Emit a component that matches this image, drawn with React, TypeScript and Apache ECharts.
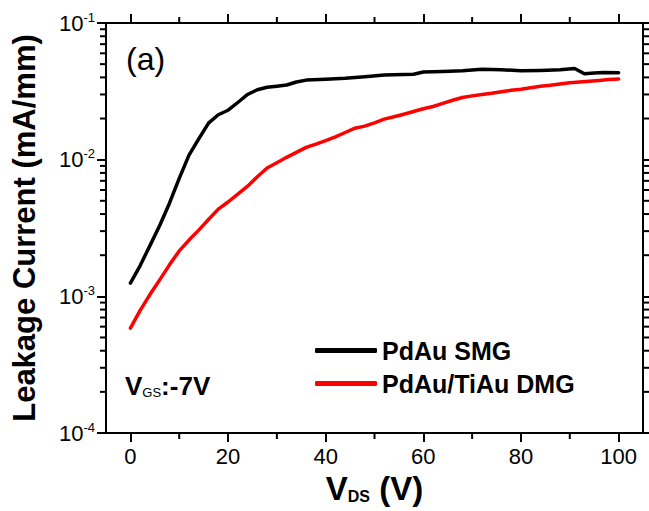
import React, { useEffect, useRef } from "react";
import * as echarts from "echarts";

// ---- data ----
const smgV = [0, 2, 4, 6, 8, 10, 12, 14, 16, 18, 20, 22, 24, 26, 28, 30, 32, 34, 36, 40, 44, 48, 52, 56, 58, 60, 64, 68, 72, 76, 80, 84, 88, 91, 93, 95, 97, 100];
const smgI = [1.25e-3, 1.68e-3, 2.35e-3, 3.3e-3, 4.8e-3, 7.3e-3, 1.08e-2, 1.42e-2, 1.85e-2, 2.13e-2, 2.3e-2, 2.62e-2, 3.0e-2, 3.25e-2, 3.39e-2, 3.45e-2, 3.52e-2, 3.7e-2, 3.82e-2, 3.87e-2, 3.94e-2, 4.05e-2, 4.17e-2, 4.2e-2, 4.22e-2, 4.38e-2, 4.42e-2, 4.48e-2, 4.58e-2, 4.55e-2, 4.47e-2, 4.5e-2, 4.55e-2, 4.65e-2, 4.25e-2, 4.3e-2, 4.35e-2, 4.33e-2];

const dmgV = [0, 2, 4, 6, 8, 10, 12, 14, 16, 18, 20, 22, 24, 26, 28, 30, 32, 34, 36, 38, 40, 42, 44, 46, 48, 50, 52, 54, 56, 58, 60, 62, 64, 66, 68, 70, 72, 74, 76, 78, 80, 82, 84, 86, 88, 90, 92, 94, 96, 98, 100];
const dmgI = [5.85e-4, 7.9e-4, 1.03e-3, 1.32e-3, 1.7e-3, 2.15e-3, 2.58e-3, 3.05e-3, 3.65e-3, 4.35e-3, 4.9e-3, 5.6e-3, 6.4e-3, 7.5e-3, 8.7e-3, 9.5e-3, 1.04e-2, 1.13e-2, 1.23e-2, 1.3e-2, 1.38e-2, 1.47e-2, 1.58e-2, 1.7e-2, 1.76e-2, 1.86e-2, 1.98e-2, 2.06e-2, 2.15e-2, 2.25e-2, 2.36e-2, 2.45e-2, 2.58e-2, 2.72e-2, 2.85e-2, 2.93e-2, 3.0e-2, 3.06e-2, 3.14e-2, 3.22e-2, 3.28e-2, 3.36e-2, 3.44e-2, 3.5e-2, 3.58e-2, 3.66e-2, 3.7e-2, 3.75e-2, 3.8e-2, 3.86e-2, 3.9e-2];

const xMajorTicks = [0, 20, 40, 60, 80, 100];
const xMinorTicks = [10, 30, 50, 70, 90];
const yMinorTicks = [2e-4, 3e-4, 4e-4, 5e-4, 6e-4, 7e-4, 8e-4, 9e-4, 2e-3, 3e-3, 4e-3, 5e-3, 6e-3, 7e-3, 8e-3, 9e-3, 2e-2, 3e-2, 4e-2, 5e-2, 6e-2, 7e-2, 8e-2, 9e-2];

const seriesNames = ["PdAu SMG", "PdAu/TiAu DMG"];

const X_MIN = -5;
const X_MAX = 105;
const Y_MIN = 1e-4;
const Y_MAX = 1e-1;

const SANS = "'Liberation Sans', Arial, sans-serif";

export default function App() {
  const ref = useRef<HTMLDivElement>(null);

  useEffect(() => {
    if (!ref.current) return;
    const chart = echarts.init(ref.current, null, { renderer: "svg" });

    // minor tick data: [x, y, kind]  kind 0=left,1=right,2=bottom,3=top
    const minorData: number[][] = [];
    yMinorTicks.forEach((v) => {
      minorData.push([X_MIN, v, 0]);
      minorData.push([X_MAX, v, 1]);
    });
    xMinorTicks.forEach((v) => {
      minorData.push([v, Y_MIN, 2]);
      minorData.push([v, Y_MAX, 3]);
    });

    const axisLine = { show: true, onZero: false, lineStyle: { color: "#000", width: 2 } };

    chart.setOption({
      animation: false,
      backgroundColor: "#fff",
      grid: { left: 106, right: 6, top: 23, bottom: 78, containLabel: false },
      legend: {
        data: seriesNames.map((n) => ({ name: n })),
        orient: "vertical",
        left: 310,
        top: 333,
        itemWidth: 62,
        itemHeight: 5,
        itemGap: 8,
        icon: "roundRect",
        textStyle: { fontFamily: SANS, fontWeight: "bold", fontSize: 25, color: "#000" },
      },
      xAxis: [
        {
          type: "value",
          min: X_MIN,
          max: X_MAX,
          position: "bottom",
          axisLine,
          splitLine: { show: false },
          axisTick: { show: true, customValues: xMajorTicks, length: 9, lineStyle: { color: "#000", width: 2 } },
          axisLabel: {
            customValues: xMajorTicks,
            margin: 12,
            fontFamily: SANS,
            fontSize: 22,
            color: "#000",
          },
          name: "V{sub|DS} (V)",
          nameLocation: "middle",
          nameGap: 36,
          nameTextStyle: {
            fontFamily: SANS,
            fontSize: 33,
            fontWeight: "bold",
            color: "#000",
            rich: {
              sub: { fontFamily: SANS, fontSize: 16, fontWeight: "bold", color: "#000", verticalAlign: "bottom", lineHeight: 12 },
            },
          },
        },
        {
          type: "value",
          min: X_MIN,
          max: X_MAX,
          position: "top",
          axisLine,
          splitLine: { show: false },
          axisTick: { show: true, customValues: xMajorTicks, length: 9, lineStyle: { color: "#000", width: 2 } },
          axisLabel: { show: false },
        },
      ],
      yAxis: [
        {
          type: "log",
          logBase: 10,
          min: Y_MIN,
          max: Y_MAX,
          position: "left",
          axisLine,
          splitLine: { show: false },
          axisTick: { show: true, length: 9, lineStyle: { color: "#000", width: 2 } },
          axisLabel: {
            margin: 11,
            fontFamily: SANS,
            fontSize: 22,
            color: "#000",
            formatter: (v: number) => `10{sup|${Math.round(Math.log10(v))}}`,
            rich: {
              sup: { fontFamily: SANS, fontSize: 13, color: "#000", verticalAlign: "top", padding: [0, 0, 12, 0] },
            },
          },
          name: "Leakage Current (mA/mm)",
          nameLocation: "middle",
          nameRotate: 90,
          nameGap: 66,
          nameTextStyle: { fontFamily: SANS, fontSize: 31, fontWeight: "bold", color: "#000" },
        },
        {
          type: "log",
          logBase: 10,
          min: Y_MIN,
          max: Y_MAX,
          position: "right",
          axisLine,
          splitLine: { show: false },
          axisTick: { show: true, length: 9, lineStyle: { color: "#000", width: 2 } },
          axisLabel: { show: false },
        },
      ],
      graphic: [
        {
          type: "text",
          left: 126,
          top: 43,
          style: { text: "(a)", fontFamily: SANS, fontSize: 32, fill: "#000" },
        },
        {
          type: "text",
          left: 125,
          top: 373,
          style: {
            text: "V{sub|GS}:-7V",
            fontFamily: SANS,
            fontSize: 26,
            fontWeight: "bold",
            fill: "#000",
            rich: {
              sub: { fontFamily: SANS, fontSize: 13, fill: "#000", verticalAlign: "bottom", lineHeight: 10 },
            },
          },
        },
      ],
      series: [
        {
          name: seriesNames[0],
          type: "line",
          xAxisIndex: 0,
          yAxisIndex: 0,
          data: smgV.map((v, i) => [v, smgI[i]]),
          showSymbol: false,
          symbol: "none",
          lineStyle: { color: "#000", width: 3.5, cap: "round", join: "round" },
          itemStyle: { color: "#000" },
          z: 5,
        },
        {
          name: seriesNames[1],
          type: "line",
          xAxisIndex: 0,
          yAxisIndex: 0,
          data: dmgV.map((v, i) => [v, dmgI[i]]),
          showSymbol: false,
          symbol: "none",
          lineStyle: { color: "#ff0000", width: 3.5, cap: "round", join: "round" },
          itemStyle: { color: "#ff0000" },
          z: 4,
        },
        {
          name: "minorTicks",
          type: "custom",
          xAxisIndex: 0,
          yAxisIndex: 0,
          silent: true,
          clip: false,
          data: minorData,
          renderItem: (params: any, api: any) => {
            const p = api.coord([api.value(0), api.value(1)]);
            const kind = api.value(2);
            const len = 6;
            let x2 = p[0];
            let y2 = p[1];
            if (kind === 0) x2 = p[0] - len;
            else if (kind === 1) x2 = p[0] + len;
            else if (kind === 2) y2 = p[1] + len;
            else y2 = p[1] - len;
            return {
              type: "line",
              shape: { x1: p[0], y1: p[1], x2, y2 },
              style: { stroke: "#000", lineWidth: 2 },
            };
          },
        },
      ],
    });

    return () => chart.dispose();
  }, []);

  return (
    <div
      ref={ref}
      style={{ position: "fixed", left: 0, top: 0, width: 649, height: 511, background: "#fff" }}
    />
  );
}
